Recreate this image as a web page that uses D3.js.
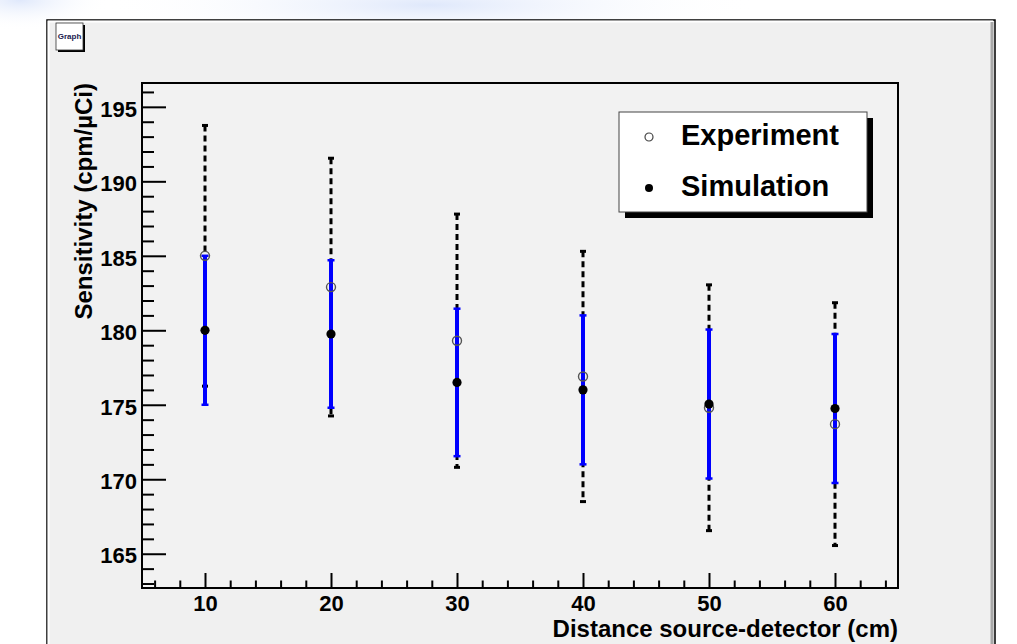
<!DOCTYPE html>
<html>
<head>
<meta charset="utf-8">
<script src="https://cdn.jsdelivr.net/npm/d3@7"></script>
<style>
  body { margin: 0; background: #fff; }
  svg text { font-family: "Liberation Sans", Arial, sans-serif; font-weight: bold; }
</style>
</head>
<body>
<svg id="chart"></svg>
<script>
// values
const distances = [10, 20, 30, 40, 50, 60];
const experiment = [185.0, 182.9, 179.3, 176.9, 174.8, 173.7];
const experimentErr = [8.75, 8.65, 8.5, 8.4, 8.25, 8.15];
const simulation = [180.0, 179.75, 176.5, 176.0, 175.05, 174.75];
const simulationErr = [5.0, 4.95, 4.95, 5.0, 5.0, 5.0];
const xTicks = [10, 20, 30, 40, 50, 60];
const yTicks = [165, 170, 175, 180, 185, 190, 195];
const legendLabels = ['Experiment', 'Simulation'];

const W = 1017, H = 644;
const margin = { top: 83, left: 142, right: 119, bottom: 56 };
const width = W - margin.left - margin.right;   // 756
const height = H - margin.top - margin.bottom;  // 505

const svg = d3.select('#chart').attr('width', W).attr('height', H);

// faint blue glow behind the canvas (top of the page)
const defs = svg.append('defs');
const glow = defs.append('radialGradient').attr('id', 'glow');
glow.append('stop').attr('offset', '0%').attr('stop-color', '#dfe8fb');
glow.append('stop').attr('offset', '100%').attr('stop-color', '#ffffff').attr('stop-opacity', 0);
svg.append('ellipse').attr('cx', 430).attr('cy', 5).attr('rx', 330).attr('ry', 40).attr('fill', 'url(#glow)');
svg.append('ellipse').attr('cx', 20).attr('cy', 0).attr('rx', 90).attr('ry', 30).attr('fill', 'url(#glow)');

// ROOT canvas with bevel
svg.append('rect').attr('x', 47).attr('y', 20).attr('width', 948).attr('height', 700)
  .attr('fill', '#f0f0f0').attr('stroke', '#000').attr('stroke-width', 1.5);
svg.append('path').attr('d', 'M48.5,700 V21.5 H993').attr('fill', 'none').attr('stroke', '#fff').attr('stroke-width', 2);
svg.append('path').attr('d', 'M992,22 V700').attr('fill', 'none').attr('stroke', '#a8a8a8').attr('stroke-width', 3);

// "Graph" button
svg.append('rect').attr('x', 58).attr('y', 25).attr('width', 27).attr('height', 27).attr('fill', '#000');
svg.append('rect').attr('x', 56).attr('y', 23).attr('width', 27).attr('height', 27)
  .attr('fill', '#fff').attr('stroke', '#333').attr('stroke-width', 0.8);
svg.append('text').attr('x', 69.5).attr('y', 39).attr('text-anchor', 'middle')
  .style('font-size', '8px').attr('fill', '#1a1a50').text('Graph');

const chart = svg.append('g').attr('transform', `translate(${margin.left},${margin.top})`);

chart.append('rect').attr('width', width).attr('height', height).attr('fill', '#f2f2f2');

const x = d3.scaleLinear().domain([5, 65]).range([0, width]);
const y = d3.scaleLinear().domain([162.7, 196.6]).range([height, 0]);

// axes: ticks point into the frame
const xMinor = d3.range(6, 65, 2).filter(v => v % 10 !== 0);
const yMinor = d3.range(163, 197, 1).filter(v => v % 5 !== 0);

const xAxisG = chart.append('g').attr('transform', `translate(0,${height})`);
xAxisG.append('g').call(d3.axisBottom(x).tickValues(xMinor).tickFormat('').tickSizeInner(-7.5).tickSizeOuter(0));
xAxisG.append('g').attr('class', 'major')
  .call(d3.axisBottom(x).tickValues(xTicks).tickFormat(d3.format('d')).tickSizeInner(-15).tickSizeOuter(0).tickPadding(4));

const yAxisG = chart.append('g');
yAxisG.append('g').call(d3.axisLeft(y).tickValues(yMinor).tickFormat('').tickSizeInner(-12).tickSizeOuter(0));
yAxisG.append('g').attr('class', 'major')
  .call(d3.axisLeft(y).tickValues(yTicks).tickFormat(d3.format('d')).tickSizeInner(-24).tickSizeOuter(0).tickPadding(5));

[xAxisG, yAxisG].forEach(g => {
  g.selectAll('.domain').remove();
  g.selectAll('.tick line').attr('stroke', '#000').attr('stroke-width', 2);
  g.selectAll('.tick text').attr('fill', '#000').style('font-size', '22px');
});
xAxisG.selectAll('.tick text').attr('dy', '0.85em');
yAxisG.selectAll('.tick text').attr('dy', '0.42em');

// frame
chart.append('rect').attr('width', width).attr('height', height)
  .attr('fill', 'none').attr('stroke', '#000').attr('stroke-width', 2);

// axis titles
chart.append('text').attr('x', width).attr('y', height + 49).attr('text-anchor', 'end')
  .style('font-size', '24px').text('Distance source-detector (cm)');
chart.append('text').attr('transform', 'rotate(-90)').attr('x', 0).attr('y', -50)
  .attr('text-anchor', 'end').style('font-size', '24px').text('Sensitivity (cpm/µCi)');

const rows = distances.map((d, i) => ({
  d, exp: experiment[i], expErr: experimentErr[i], sim: simulation[i], simErr: simulationErr[i]
}));

// experiment error bars: black dashed
const expBars = chart.selectAll('.exp-err').data(rows).join('g').attr('class', 'exp-err');
expBars.append('line')
  .attr('x1', r => x(r.d)).attr('x2', r => x(r.d))
  .attr('y1', r => y(r.exp + r.expErr)).attr('y2', r => y(r.exp - r.expErr))
  .attr('stroke', '#000').attr('stroke-width', 3).attr('stroke-dasharray', '6,4');
expBars.selectAll('.cap').data(r => [[r.d, r.exp + r.expErr], [r.d, r.exp - r.expErr]]).join('line')
  .attr('class', 'cap')
  .attr('x1', c => x(c[0]) - 3).attr('x2', c => x(c[0]) + 3)
  .attr('y1', c => y(c[1])).attr('y2', c => y(c[1]))
  .attr('stroke', '#000').attr('stroke-width', 3);

// simulation error bars: blue solid, drawn over the dashed ones
const simBars = chart.selectAll('.sim-err').data(rows).join('g').attr('class', 'sim-err');
simBars.append('line')
  .attr('x1', r => x(r.d)).attr('x2', r => x(r.d))
  .attr('y1', r => y(r.sim + r.simErr)).attr('y2', r => y(r.sim - r.simErr))
  .attr('stroke', '#0000ff').attr('stroke-width', 4);
simBars.selectAll('.cap').data(r => [[r.d, r.sim + r.simErr], [r.d, r.sim - r.simErr]]).join('line')
  .attr('class', 'cap')
  .attr('x1', c => x(c[0]) - 3.5).attr('x2', c => x(c[0]) + 3.5)
  .attr('y1', c => y(c[1])).attr('y2', c => y(c[1]))
  .attr('stroke', '#0000ff').attr('stroke-width', 2.5);

// markers
chart.selectAll('.exp-pt').data(rows).join('circle').attr('class', 'exp-pt')
  .attr('cx', r => x(r.d)).attr('cy', r => y(r.exp)).attr('r', 4.5)
  .attr('fill', 'none').attr('stroke', '#555').attr('stroke-width', 1.4);
chart.selectAll('.sim-pt').data(rows).join('circle').attr('class', 'sim-pt')
  .attr('cx', r => x(r.d)).attr('cy', r => y(r.sim)).attr('r', 4.6)
  .attr('fill', '#000');

// legend
const legend = svg.append('g').attr('transform', 'translate(619,112)');
legend.append('rect').attr('x', 6).attr('y', 6).attr('width', 248).attr('height', 100).attr('fill', '#000');
legend.append('rect').attr('width', 248).attr('height', 100).attr('fill', '#fff')
  .attr('stroke', '#444').attr('stroke-width', 1);
const items = legend.selectAll('.item').data(legendLabels).join('g').attr('class', 'item')
  .attr('transform', (d, i) => `translate(0,${25 + i * 51})`);
items.append('circle').attr('cx', 30).attr('cy', 0).attr('r', 4)
  .attr('fill', (d, i) => i === 0 ? 'none' : '#000')
  .attr('stroke', (d, i) => i === 0 ? '#444' : 'none').attr('stroke-width', 1.2);
items.append('text').attr('x', 62).attr('y', 7.5).style('font-size', '29px').text(d => d);
</script>
</body>
</html>
